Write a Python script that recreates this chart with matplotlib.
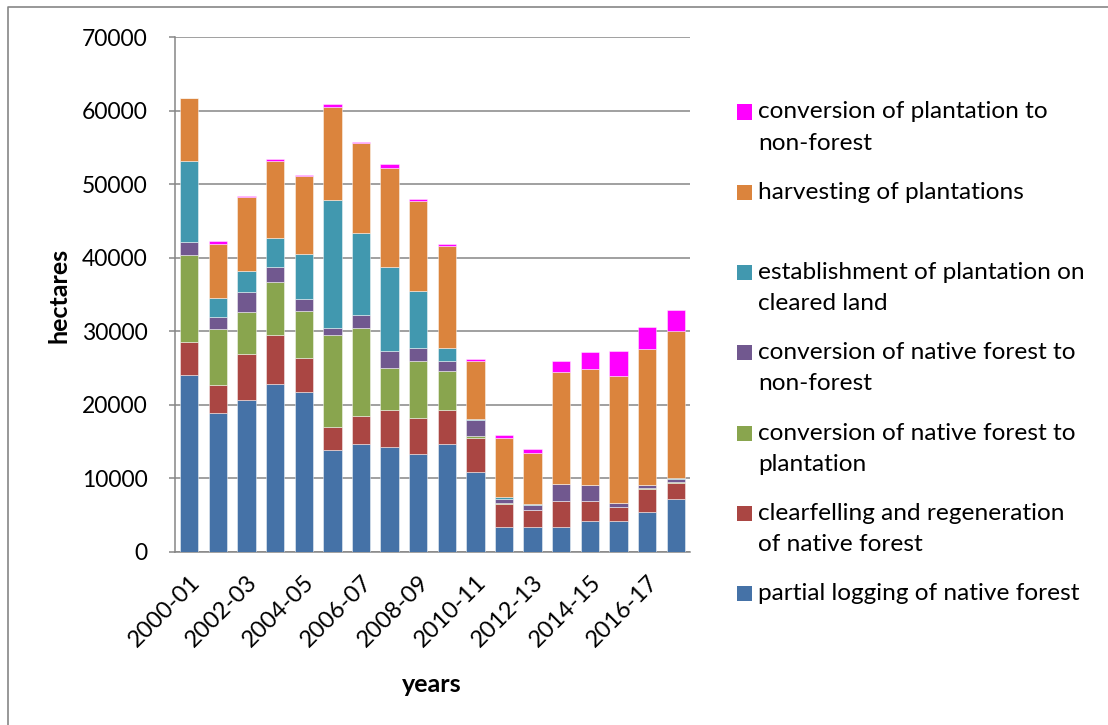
import matplotlib
matplotlib.use("Agg")
import matplotlib.pyplot as plt
from matplotlib.lines import Line2D
from matplotlib.patches import Rectangle
import numpy as np

plt.rcParams['font.family'] = ['Lato', 'DejaVu Sans']

years = ["2000-01", "2001-02", "2002-03", "2003-04", "2004-05", "2005-06",
         "2006-07", "2007-08", "2008-09", "2009-10", "2010-11", "2011-12",
         "2012-13", "2013-14", "2014-15", "2015-16", "2016-17", "2017-18"]

partial_logging = [24000, 18960, 20680, 22850, 21760, 13890, 14710, 14300, 13260,
                   14710, 10900, 3440, 3440, 3440, 4250, 4250, 5480, 7240]
clearfelling = [4550, 3750, 6200, 6650, 4570, 3120, 3750, 4980, 4930,
                4610, 4620, 3120, 2260, 3530, 2720, 1900, 3120, 2130]
native_to_plantation = [11860, 7650, 5790, 7240, 6480, 12540, 11990, 5740, 7830,
                        5300, 230, 90, 50, 0, 0, 0, 100, 100]
native_to_nonforest = [1760, 1630, 2670, 1990, 1530, 860, 1720, 2310, 1670,
                       1310, 2170, 590, 680, 2310, 2130, 550, 400, 480]
plantation_establishment = [11040, 2580, 2850, 3890, 6200, 17420, 11130, 11360, 7830,
                            1810, 180, 180, 50, 0, 0, 0, 0, 140]
plantation_harvesting = [8460, 7330, 10000, 10550, 10500, 12620, 12270, 13440, 12130,
                         13890, 7830, 8100, 6920, 15200, 15830, 17240, 18550, 19910]
plantation_to_nonforest = [0, 320, 140, 310, 230, 410, 220, 630, 360,
                           270, 310, 320, 540, 1450, 2260, 3440, 2940, 2900]

series_labels = [
    "partial logging of native forest",
    "clearfelling and regeneration\nof native forest",
    "conversion of native forest to\nplantation",
    "conversion of native forest to\nnon-forest",
    "establishment of plantation on\ncleared land",
    "harvesting of plantations",
    "conversion of plantation to\nnon-forest",
]
series_values = [partial_logging, clearfelling, native_to_plantation,
                 native_to_nonforest, plantation_establishment,
                 plantation_harvesting, plantation_to_nonforest]
colors = ["#4572A7", "#AA4643", "#89A54E", "#71588F", "#4198AF", "#DB843D", "#FF00FF"]

W, H = 1108, 725
fig = plt.figure(figsize=(W / 100, H / 100), dpi=100)
fig.patch.set_facecolor("white")


def fx(px):
    return px / W


def fy(py):
    return 1 - py / H


ax = fig.add_axes([fx(175), fy(552), (690 - 175) / W, (552 - 37) / H])

x = np.arange(len(years))
bottom = np.zeros(len(years))
for vals, col in zip(series_values, colors):
    v = np.array(vals, dtype=float)
    ax.bar(x, v, width=0.64, bottom=bottom, color=col,
           edgecolor=(1, 1, 1, 0.45), linewidth=0.7, zorder=3)
    bottom += v

grid_col = "#868686"
ax.set_xlim(-0.5, len(years) - 0.5)
ax.set_ylim(0, 70000)
ax.set_yticks(np.arange(0, 70001, 10000))
ax.set_yticklabels([str(t) for t in range(0, 70001, 10000)], fontsize=16.5)
ax.yaxis.grid(True, color=grid_col, linewidth=1.1, zorder=0)
ax.set_axisbelow(True)
ax.tick_params(axis='y', length=4, width=1.1, color=grid_col, pad=15.5)

ax.set_xticks(x[::2])
ax.set_xticklabels(years[::2], rotation=45, ha='right', rotation_mode='anchor',
                   fontsize=17)
ax.tick_params(axis='x', length=0, pad=14)

for side in ("top", "right"):
    ax.spines[side].set_visible(False)
for side in ("left", "bottom"):
    ax.spines[side].set_color(grid_col)
    ax.spines[side].set_linewidth(1.1)

fig.text(fx(59), fy(295), "hectares", rotation=90, ha='center', va='center',
         fontsize=18, fontweight='bold')
fig.text(fx(432), fy(684), "years", ha='center', va='center',
         fontsize=18, fontweight='bold')

# Legend, topmost series first, marker beside the first line of each label
entry_y0, entry_step, line_step = 112, 80.3, 31
for i, (lab, col) in enumerate(zip(series_labels[::-1], colors[::-1])):
    cy = entry_y0 + entry_step * i
    fig.add_artist(Rectangle((fx(737), fy(cy + 7.5)), 15 / W, 15 / H,
                             transform=fig.transFigure, facecolor=col,
                             edgecolor='none'))
    for k, line in enumerate(lab.split("\n")):
        fig.text(fx(758), fy(cy + line_step * k), line, ha='left', va='center',
                 fontsize=17.6)

# Chart frame lines along the left and top edges
fig.add_artist(Line2D([fx(8), fx(8), fx(1108)], [fy(725), fy(7), fy(7)],
                      transform=fig.transFigure, color=grid_col, linewidth=1.2))

fig.savefig("out.png", dpi=100)
